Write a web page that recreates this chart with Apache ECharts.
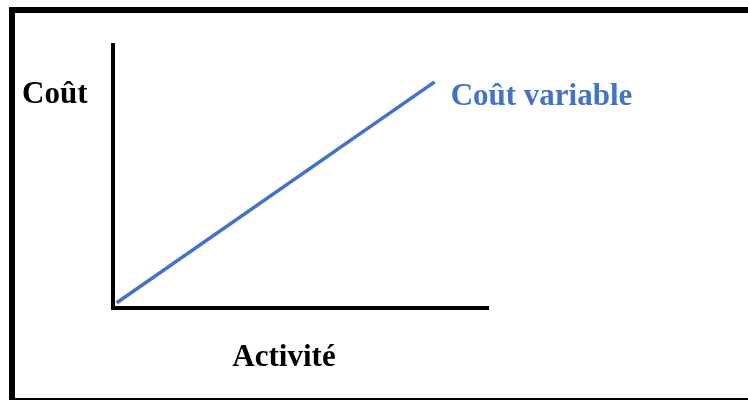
<!DOCTYPE html>
<html>
<head>
<meta charset="utf-8">
<script src="https://cdn.jsdelivr.net/npm/echarts@6/dist/echarts.min.js"></script>
<style>html,body{margin:0;padding:0;background:#fff}#c{width:748px;height:400px}</style>
</head>
<body>
<div id="c"></div>
<script>
const seriesName = 'Coût variable';
const xLabel = 'Activité';
const yLabel = 'Coût';
const activity = [1, 86];
const cost = [2, 86];

const chart = echarts.init(document.getElementById('c'), null, {renderer: 'canvas'});
const font = '"Liberation Serif", "Times New Roman", serif';
chart.setOption({
  animation: false,
  backgroundColor: '#fff',
  grid: {left: 113, right: 261, top: 45, bottom: 92},
  xAxis: {
    type: 'value', min: 0, max: 100,
    axisLine: {show: true, lineStyle: {color: '#000', width: 4, cap: 'square'}},
    axisTick: {show: false}, axisLabel: {show: false}, splitLine: {show: false}
  },
  yAxis: {
    type: 'value', min: 0, max: 100,
    axisLine: {show: true, lineStyle: {color: '#000', width: 4, cap: 'square'}},
    axisTick: {show: false}, axisLabel: {show: false}, splitLine: {show: false}
  },
  series: [{
    name: seriesName,
    type: 'line',
    data: activity.map((a, i) => [a, cost[i]]),
    showSymbol: false,
    lineStyle: {color: '#4472C4', width: 3.5},
    endLabel: {
      show: true, formatter: '{a}', color: '#4472C4',
      fontFamily: font, fontWeight: 'bold', fontSize: 31,
      distance: 16, offset: [0, 15]
    }
  }],
  graphic: [
    {type: 'rect', shape: {x: 9, y: 7, width: 739, height: 6}, style: {fill: '#000'}},
    {type: 'rect', shape: {x: 9, y: 7, width: 6, height: 393}, style: {fill: '#000'}},
    {type: 'rect', shape: {x: 9, y: 398, width: 739, height: 2}, style: {fill: '#000'}},
    {type: 'text', x: 22, y: 79, style: {text: yLabel, font: 'bold 31px ' + font, fill: '#000'}},
    {type: 'text', x: 284, y: 342, style: {text: xLabel, font: 'bold 31px ' + font, fill: '#000', align: 'center'}}
  ]
});
</script>
</body>
</html>
